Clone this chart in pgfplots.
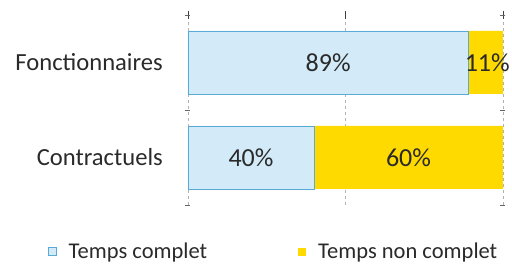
\documentclass[border=0pt]{standalone}
\usepackage{pgfplots}
\pgfplotsset{compat=1.18}
\usepackage{fontspec}
\setmainfont{Carlito}
\definecolor{lblue}{HTML}{D3EBF8}
\definecolor{bblue}{HTML}{5AAAD8}
\definecolor{yel}{HTML}{FFDA00}
\definecolor{txt}{HTML}{2A2A2A}
\begin{document}
\begin{tikzpicture}[x=1pt,y=1pt]
\path[use as bounding box] (-188,-60) rectangle (324,205);
\begin{axis}[
  at={(0,0)}, anchor=south west,
  scale only axis, width=315pt, height=190pt,
  xbar stacked, bar width=63pt,
  xmin=0, xmax=100, ymin=-0.5, ymax=1.5,
  axis line style={draw=none},
  xtick={0,50,100}, xticklabels={}, xtick pos=upper,
  major tick length=8pt, tick align=center,
  xmajorgrids, grid style={gray!60, dashed, line width=0.6pt},
  tick style={black!75, line width=0.8pt},
  ytick={0,1}, yticklabels={Contractuels,Fonctionnaires},
  ytick style={draw=none},
  extra y ticks={-0.5,0.5,1.5}, extra y tick labels={},
  extra y tick style={ytick style={draw=black!60,line width=0.6pt}, major tick length=5pt, tick align=center, ymajorgrids=false},
  yticklabel style={font=\fontsize{24.6}{29}\selectfont, text=txt, inner sep=0pt, anchor=east, xshift=-21pt},
  legend style={at={(-0.445,-0.245)}, anchor=west, draw=none, fill=none, inner sep=0pt,
    font=\fontsize{22.5}{26}\selectfont, text=txt, legend columns=2,
    /tikz/every odd column/.append style={column sep=10pt},
    /tikz/every even column/.append style={column sep=89pt}},
  legend cell align=left,
]
\addplot[fill=lblue, draw=bblue, line width=0.5pt,
  legend image code/.code={\draw[fill=lblue, draw=bblue, line width=0.7pt] (0pt,-4pt) rectangle (8pt,4pt);}]
  coordinates {(40,0) (89,1)};
\addlegendentry{Temps complet}
\addplot[fill=yel, draw=none,
  legend image code/.code={\fill[yel] (0pt,-4pt) rectangle (8pt,4pt);}]
  coordinates {(60,0) (11,1)};
\addlegendentry{Temps non complet}
\end{axis}
\begin{axis}[
  at={(0,0)}, anchor=south west,
  scale only axis, width=315pt, height=190pt,
  xmin=0, xmax=100, ymin=-0.5, ymax=1.5,
  hide axis,
]
\addplot[only marks, mark=none, nodes near coords, point meta=explicit symbolic,
  every node near coord/.style={anchor=center, font=\fontsize{26}{30}\selectfont, text=txt}]
  table[meta=lab] {
x y lab
44.5 1 89\%
95 1 11\%
20 0 40\%
70 0 60\%
};
\end{axis}
\end{tikzpicture}
\end{document}
